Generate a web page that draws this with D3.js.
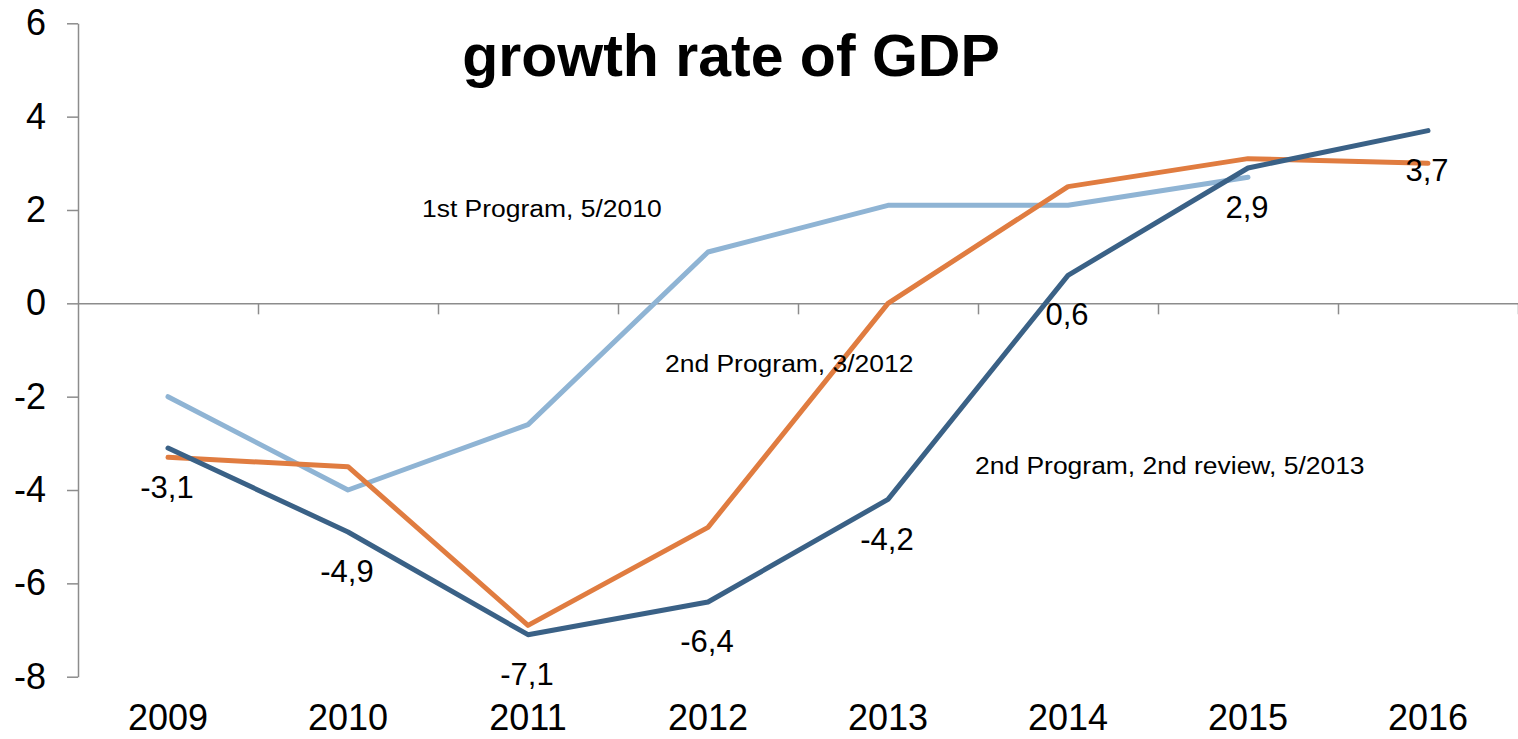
<!DOCTYPE html>
<html>
<head>
<meta charset="utf-8">
<script src="https://cdn.jsdelivr.net/npm/d3@7"></script>
<style>
  html, body { margin: 0; padding: 0; background: #fff; }
  svg { display: block; font-family: "Liberation Sans", Arial, sans-serif; }
</style>
</head>
<body>
<svg id="chart" width="1518" height="739"></svg>
<script>
// Years on the category axis
const years = ["2009", "2010", "2011", "2012", "2013", "2014", "2015", "2016"];

// GDP growth forecasts (%) by programme vintage
const firstProgram = [-2.0, -4.0, -2.6, 1.1, 2.1, 2.1, 2.7];            // 1st Program, 5/2010 (to 2015)
const secondProgram = [-3.3, -3.5, -6.9, -4.8, 0.0, 2.5, 3.1, 3.0];     // 2nd Program, 3/2012
const secondReview = [-3.1, -4.9, -7.1, -6.4, -4.2, 0.6, 2.9, 3.7];     // 2nd Program, 2nd review, 5/2013

// Value labels printed under the latest forecast
const reviewLabels = ["-3,1", "-4,9", "-7,1", "-6,4", "-4,2", "0,6", "2,9", "3,7"];

const yTicks = [-8, -6, -4, -2, 0, 2, 4, 6];

const svg = d3.select("#chart");
const axisColor = "#8c8c8c";

const x = d3.scaleBand().domain(years).range([78, 1518]).padding(0);
const y = d3.scaleLinear().domain([-8, 6]).range([676.7, 23.3]);
const cx = d => x(d) + x.bandwidth() / 2;

// Title
svg.append("text")
  .attr("x", 731).attr("y", 76)
  .attr("text-anchor", "middle")
  .attr("font-size", 59).attr("font-weight", "bold")
  .attr("fill", "#000")
  .text("growth rate of GDP");

// Vertical value axis
const yAxis = svg.append("g")
  .attr("transform", "translate(78,0)")
  .call(d3.axisLeft(y).tickValues(yTicks).tickFormat(d => String(d))
    .tickSize(11).tickSizeOuter(0).tickPadding(21));
yAxis.select(".domain").attr("stroke", axisColor).attr("stroke-width", 1.5);
yAxis.selectAll(".tick line").attr("stroke", axisColor).attr("stroke-width", 1.5);
yAxis.selectAll(".tick text")
  .attr("font-size", 36).attr("fill", "#000")
  .attr("font-family", "\"Liberation Sans\", Arial, sans-serif");

// Horizontal axis line at zero, ticks between categories
const boundary = d3.scaleLinear().domain([0, years.length]).range(x.range());
const zeroAxis = svg.append("g")
  .attr("transform", `translate(0,${y(0)})`)
  .call(d3.axisBottom(boundary).tickValues(d3.range(1, years.length + 1))
    .tickFormat("").tickSize(11).tickSizeOuter(0));
zeroAxis.select(".domain").attr("stroke", axisColor).attr("stroke-width", 1.5);
zeroAxis.selectAll(".tick line").attr("stroke", axisColor).attr("stroke-width", 1.5);

// Category labels along the bottom
const xLabels = svg.append("g")
  .attr("transform", "translate(0,704)")
  .call(d3.axisBottom(x).tickSize(0).tickPadding(0));
xLabels.select(".domain").remove();
xLabels.selectAll(".tick text")
  .attr("font-size", 36).attr("fill", "#000")
  .attr("font-family", "\"Liberation Sans\", Arial, sans-serif");

// Forecast lines
const line = d3.line()
  .x((d, i) => cx(years[i]))
  .y(d => y(d));

const series = [
  { values: firstProgram, color: "#8fb4d4" },
  { values: secondProgram, color: "#e07c40" },
  { values: secondReview, color: "#3a6186" }
];

svg.append("g").selectAll("path")
  .data(series)
  .join("path")
  .attr("d", d => line(d.values))
  .attr("fill", "none")
  .attr("stroke", d => d.color)
  .attr("stroke-width", 5)
  .attr("stroke-linejoin", "round")
  .attr("stroke-linecap", "round");

// Value labels below the 2nd review line
svg.append("g").selectAll("text")
  .data(secondReview)
  .join("text")
  .attr("x", (d, i) => cx(years[i]) - 1)
  .attr("y", d => y(d) + 39)
  .attr("dy", "0.36em")
  .attr("text-anchor", "middle")
  .attr("font-size", 31)
  .attr("fill", "#000")
  .text((d, i) => reviewLabels[i]);

// Series annotations (set slightly wide)
const notes = [
  { text: "1st Program, 5/2010", x: 422, y: 217 },
  { text: "2nd Program, 3/2012", x: 665, y: 372 },
  { text: "2nd Program, 2nd review, 5/2013", x: 975, y: 474 }
];
svg.append("g").selectAll("text")
  .data(notes)
  .join("text")
  .attr("transform", d => `translate(${d.x},${d.y}) scale(1.08,1)`)
  .attr("font-size", 24.5)
  .attr("fill", "#000")
  .text(d => d.text);
</script>
</body>
</html>
